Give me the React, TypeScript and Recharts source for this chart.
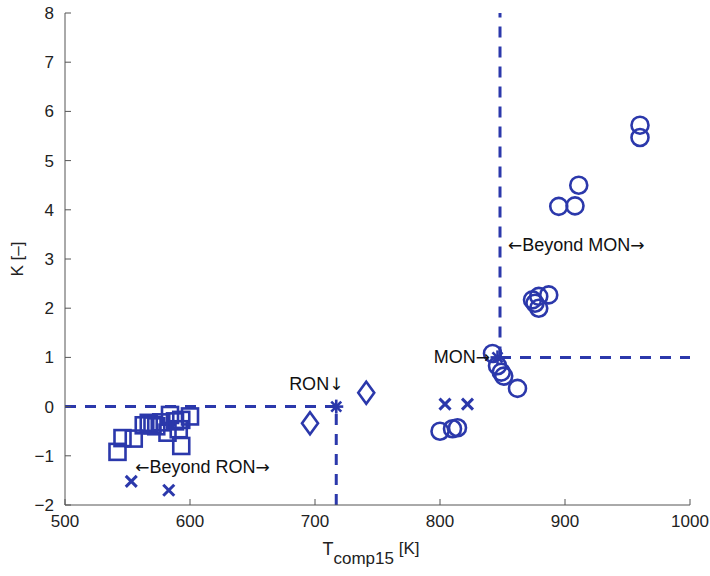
import React from 'react';
import { ScatterChart, Scatter, XAxis, YAxis, ReferenceLine, ReferenceDot } from 'recharts';

const BLUE = '#2b38ab';
const AXIS = '#555';
const FONT = '"Liberation Sans", Arial, Helvetica, sans-serif';
const ARROW_FONT = '"DejaVu Sans", sans-serif';

const xTicks = [500, 600, 700, 800, 900, 1000];
const yTicks = [-2, -1, 0, 1, 2, 3, 4, 5, 6, 7, 8];

const squares = [
  { x: 542, y: -0.92 }, { x: 546, y: -0.64 }, { x: 555, y: -0.65 }, { x: 563, y: -0.38 },
  { x: 567, y: -0.33 }, { x: 570, y: -0.38 }, { x: 573, y: -0.4 }, { x: 577, y: -0.32 },
  { x: 582, y: -0.53 }, { x: 584, y: -0.17 }, { x: 588, y: -0.3 }, { x: 591, y: -0.46 },
  { x: 593, y: -0.8 }, { x: 593, y: -0.27 }, { x: 600, y: -0.2 },
];
const crosses = [
  { x: 553, y: -1.52 }, { x: 583, y: -1.7 }, { x: 804, y: 0.05 }, { x: 822, y: 0.05 },
];
const diamonds = [{ x: 696, y: -0.34 }, { x: 741, y: 0.28 }];
const asterisks = [{ x: 717, y: 0 }, { x: 846, y: 1.0 }];
const circles = [
  { x: 842, y: 1.08 }, { x: 846, y: 0.83 }, { x: 849, y: 0.7 }, { x: 851, y: 0.62 },
  { x: 862, y: 0.37 }, { x: 800, y: -0.5 }, { x: 810, y: -0.45 }, { x: 814, y: -0.43 },
  { x: 874, y: 2.17 }, { x: 879, y: 2.24 }, { x: 887, y: 2.27 }, { x: 879, y: 2.0 },
  { x: 876, y: 2.1 }, { x: 895, y: 4.07 }, { x: 908, y: 4.08 }, { x: 911, y: 4.5 },
  { x: 960, y: 5.72 }, { x: 960, y: 5.47 },
];

const RON = 717;
const MON = 848;

const annotations = [
  { x: 701, y: 0.47, pre: '', text: 'RON', post: '↓', anchor: 'middle' },
  { x: 840, y: 1.02, pre: '', text: 'MON', post: '→', anchor: 'end' },
  { x: 610, y: -1.22, pre: '←', text: 'Beyond RON', post: '→', anchor: 'middle' },
  { x: 909, y: 3.29, pre: '←', text: 'Beyond MON', post: '→', anchor: 'middle' },
];

const SquareShape = (p: any) => (
  <rect x={p.cx - 8} y={p.cy - 8} width={16} height={16} fill="none" stroke={BLUE} strokeWidth={2.6} />
);
const CircleShape = (p: any) => (
  <circle cx={p.cx} cy={p.cy} r={8.5} fill="none" stroke={BLUE} strokeWidth={2.6} />
);
const CrossShape = (p: any) => (
  <g stroke={BLUE} strokeWidth={3}>
    <line x1={p.cx - 5.5} y1={p.cy - 5.5} x2={p.cx + 5.5} y2={p.cy + 5.5} />
    <line x1={p.cx - 5.5} y1={p.cy + 5.5} x2={p.cx + 5.5} y2={p.cy - 5.5} />
  </g>
);
const DiamondShape = (p: any) => (
  <polygon
    points={`${p.cx},${p.cy - 11} ${p.cx + 8},${p.cy} ${p.cx},${p.cy + 11} ${p.cx - 8},${p.cy}`}
    fill="none" stroke={BLUE} strokeWidth={2.6}
  />
);
const AsteriskShape = (p: any) => (
  <g stroke={BLUE} strokeWidth={2.6}>
    <line x1={p.cx - 7} y1={p.cy} x2={p.cx + 7} y2={p.cy} />
    <line x1={p.cx} y1={p.cy - 7} x2={p.cx} y2={p.cy + 7} />
    <line x1={p.cx - 5} y1={p.cy - 5} x2={p.cx + 5} y2={p.cy + 5} />
    <line x1={p.cx - 5} y1={p.cy + 5} x2={p.cx + 5} y2={p.cy - 5} />
  </g>
);

const fmt = (v: number) => (v < 0 ? '\u2212' + Math.abs(v) : String(v));

const BottomTick = (p: any) => (
  <g>
    <line x1={p.x} x2={p.x} y1={p.y} y2={p.y - 6} stroke={AXIS} />
    <text x={p.x} y={p.y + 22} textAnchor="middle" fontSize={17} fill="#222" fontFamily={FONT}>
      {p.payload.value}
    </text>
  </g>
);
const TopTick = (p: any) => <line x1={p.x} x2={p.x} y1={p.y} y2={p.y + 6} stroke={AXIS} />;
const LeftTick = (p: any) => (
  <g>
    <line x1={p.x} x2={p.x + 6} y1={p.y} y2={p.y} stroke={AXIS} />
    <text x={p.x - 11} y={p.y} dy="0.35em" textAnchor="end" fontSize={17} fill="#222" fontFamily={FONT}>
      {fmt(p.payload.value)}
    </text>
  </g>
);
const RightTick = (p: any) => <line x1={p.x} x2={p.x - 6} y1={p.y} y2={p.y} stroke={AXIS} />;

const dashed = { stroke: BLUE, strokeWidth: 3, strokeDasharray: '11 9' };

const AnnotationShape = (a: any) => (p: any) => (
  <text x={p.cx} y={p.cy} dy="0.35em" textAnchor={a.anchor} fontSize={18} fill="#111" fontFamily={FONT}>
    {a.pre ? <tspan fontFamily={ARROW_FONT} fontSize={17}>{a.pre}</tspan> : null}
    <tspan>{a.text}</tspan>
    {a.post ? <tspan fontFamily={ARROW_FONT} fontSize={17}>{a.post}</tspan> : null}
  </text>
);

export default function App() {
  return (
    <div style={{ position: 'absolute', left: 0, top: 0, background: '#fff' }}>
      <ScatterChart width={710} height={576} margin={{ top: 13, right: 20, left: 0, bottom: 0 }}>
        <XAxis
          type="number" dataKey="x" domain={[500, 1000]} ticks={xTicks} interval={0}
          allowDataOverflow height={71} tickSize={0} tickMargin={0} tickLine={false}
          axisLine={{ stroke: AXIS }} tick={BottomTick}
          label={(props: any) => {
            const vb = props.viewBox;
            const cx = vb.x + vb.width / 2;
            const y = vb.y + 50;
            return (
              <text x={cx - 55} y={y} fontSize={18} fill="#222" fontFamily={FONT}>
                T<tspan fontSize={17} dy={9}>comp15</tspan>
                <tspan fontSize={17} dy={-10}> [K]</tspan>
              </text>
            );
          }}
        />
        <XAxis
          xAxisId="top" orientation="top" type="number" dataKey="x" domain={[500, 1000]}
          ticks={xTicks} interval={0} height={0} tickSize={0} tickMargin={0} tickLine={false}
          axisLine={{ stroke: AXIS }} tick={TopTick}
        />
        <YAxis
          type="number" dataKey="y" domain={[-2, 8]} ticks={yTicks} interval={0}
          allowDataOverflow width={65} tickSize={0} tickMargin={0} tickLine={false}
          axisLine={{ stroke: AXIS }} tick={LeftTick}
          label={(props: any) => {
            const vb = props.viewBox;
            const cy = vb.y + vb.height / 2;
            return (
              <text x={23} y={cy} transform={`rotate(-90 23 ${cy})`} textAnchor="middle"
                fontSize={17} fill="#222" fontFamily={FONT}>
                K [–]
              </text>
            );
          }}
        />
        <YAxis
          yAxisId="right" orientation="right" type="number" dataKey="y" domain={[-2, 8]}
          ticks={yTicks} interval={0} width={0} tickSize={0} tickMargin={0} tickLine={false}
          axisLine={{ stroke: AXIS }} tick={RightTick}
        />

        <ReferenceLine segment={[{ x: 500, y: 0 }, { x: RON, y: 0 }]} {...dashed} />
        <ReferenceLine segment={[{ x: RON, y: -2 }, { x: RON, y: 0 }]} {...dashed} />
        <ReferenceLine segment={[{ x: MON, y: 1 }, { x: MON, y: 8 }]} {...dashed} />
        <ReferenceLine segment={[{ x: MON, y: 1 }, { x: 1000, y: 1 }]} {...dashed} />

        <Scatter data={squares} shape={SquareShape} isAnimationActive={false} />
        <Scatter data={crosses} shape={CrossShape} isAnimationActive={false} />
        <Scatter data={diamonds} shape={DiamondShape} isAnimationActive={false} />
        <Scatter data={circles} shape={CircleShape} isAnimationActive={false} />
        <Scatter data={asterisks} shape={AsteriskShape} isAnimationActive={false} />

        {annotations.map((a) => (
          <ReferenceDot key={a.text} x={a.x} y={a.y} r={0} shape={AnnotationShape(a)} />
        ))}
      </ScatterChart>
    </div>
  );
}
